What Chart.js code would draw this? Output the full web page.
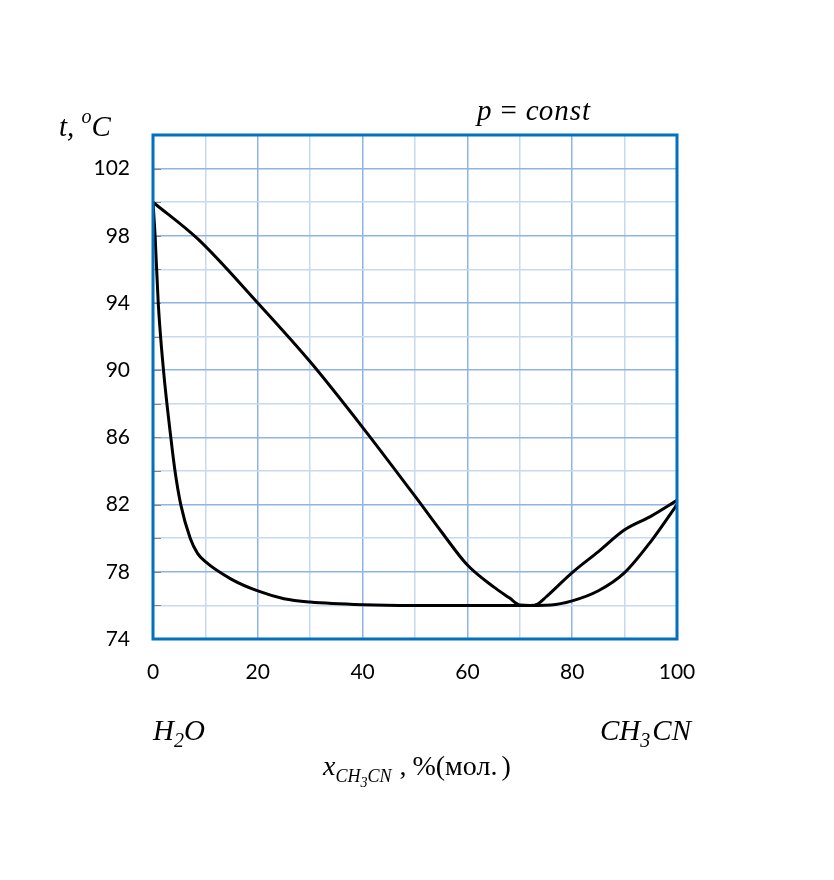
<!DOCTYPE html>
<html>
<head>
<meta charset="utf-8">
<script src="https://cdn.jsdelivr.net/npm/chart.js@4"></script>
<style>
  html, body { margin: 0; padding: 0; background: #fff; }
  #wrap { position: relative; width: 834px; height: 880px; }
  .m { position: absolute; font-family: "Liberation Serif", "DejaVu Serif", serif; font-style: italic; font-size: 29px; color: #000; white-space: nowrap; line-height: 1; }
  .m sub, .m sup { font-size: 20px; }
  .up { font-style: normal; }
</style>
</head>
<body>
<div id="wrap">
  <canvas id="chart" width="834" height="880"></canvas>
  <div class="m" style="left:59px; top:108px;">t, <sup style="position:relative; top:-2px;">o</sup>C</div>
  <div class="m" style="left:477px; top:96px;">p<span class="up" style="margin:0 9px;">=</span>c<span style="letter-spacing:1px;">onst</span></div>
  <div class="m" style="left:153px; top:716px;">H<sub>2</sub>O</div>
  <div class="m" style="left:600px; top:716px;">CH<sub>3</sub><span style="margin-left:2px;">CN</span></div>
  <div class="m" style="left:323px; top:752px; font-size:28px;">x<sub style="font-size:18px;">CH<sub style="font-size:14px;">3</sub>CN</sub><span class="up" style="margin-left:8px;">,</span><span class="up" style="margin-left:6px;">%(мол.<span style="margin-left:4px;">)</span></span></div>
</div>
<script>
/* =========================
   DATA
   ========================= */

// vapour line (dew curve)
const vaporX = [0, 8.6, 20, 30, 40, 50, 55, 60, 65, 68, 70, 72, 73.5, 75, 80, 85, 90, 95, 100];
const vaporY = [100, 97.8, 94.0, 90.5, 86.6, 82.5, 80.4, 78.4, 77.1, 76.45, 76.03, 76.0, 76.1, 76.5, 77.95, 79.2, 80.5, 81.3, 82.25];

// liquid line (boiling curve)
const liquidX = [0, 0.4, 1.0, 2.0, 3.4, 4.2, 5.3, 7.1, 8.5, 10, 15, 20, 25, 30, 40, 50, 60, 70, 76, 80, 85, 90, 95, 100];
const liquidY = [100, 98, 94, 90, 86, 84, 82, 80, 79.1, 78.6, 77.55, 76.86, 76.4, 76.2, 76.04, 76, 76, 76, 76.03, 76.27, 76.87, 77.95, 79.8, 82];

const xLabels = [0, 20, 40, 60, 80, 100];
const yLabels = [74, 78, 82, 86, 90, 94, 98, 102];

const toPoints = (xs, ys) => xs.map((x, i) => ({ x: x, y: ys[i] }));

/* =========================
   PLOT FRAME
   ========================= */

const framePlugin = {
  id: "frame",
  beforeDatasetsDraw(chart) {
    const { ctx, chartArea: a, scales } = chart;
    // small grey ticks inside left border
    ctx.save();
    ctx.strokeStyle = "#868686";
    ctx.lineWidth = 1;
    for (let v = 76; v < 104; v += 2) {
      const y = Math.round(scales.y.getPixelForValue(v)) + 0.5;
      ctx.beginPath();
      ctx.moveTo(a.left, y);
      ctx.lineTo(a.left + 8, y);
      ctx.stroke();
    }
    ctx.restore();
  },
  afterDraw(chart) {
    const { ctx, chartArea: a } = chart;
    ctx.save();
    ctx.strokeStyle = "#0070C0";
    ctx.lineWidth = 3;
    ctx.strokeRect(a.left, a.top, a.right - a.left, a.bottom - a.top);
    ctx.restore();
  }
};

const lineStyle = {
  borderColor: "#000",
  borderWidth: 3,
  pointRadius: 0,
  fill: false,
  cubicInterpolationMode: "monotone"
};

const tickFont = { family: "Lato, 'Open Sans', sans-serif", size: 21 };

new Chart(document.getElementById("chart"), {
  type: "line",
  data: {
    datasets: [
      Object.assign({ label: "vapour", data: toPoints(vaporX, vaporY) }, lineStyle),
      Object.assign({ label: "liquid", data: toPoints(liquidX, liquidY) }, lineStyle)
    ]
  },
  options: {
    responsive: false,
    animation: false,
    layout: { padding: { left: 0, top: 135, right: 157, bottom: 191 } },
    plugins: { legend: { display: false }, tooltip: { enabled: false } },
    scales: {
      x: {
        type: "linear",
        min: 0, max: 100,
        afterFit: s => { s.height = 50; },
        border: { display: false },
        grid: {
          drawTicks: false,
          color: c => (xLabels.includes(c.tick.value) ? "#8EB4E3" : "#C6D9F1"),
          lineWidth: 1.5
        },
        ticks: {
          stepSize: 10,
          padding: 21,
          color: "#000",
          font: tickFont,
          callback: v => (xLabels.includes(v) ? String(v) : "")
        }
      },
      y: {
        min: 74, max: 104,
        afterFit: s => { s.width = 153; },
        border: { display: false },
        grid: {
          drawTicks: false,
          color: c => (yLabels.includes(c.tick.value) ? "#8EB4E3" : "#C6D9F1"),
          lineWidth: 1.5
        },
        ticks: {
          stepSize: 2,
          padding: 23,
          color: "#000",
          font: tickFont,
          callback: v => (yLabels.includes(v) ? String(v) : "")
        }
      }
    }
  },
  plugins: [framePlugin]
});
</script>
</body>
</html>
